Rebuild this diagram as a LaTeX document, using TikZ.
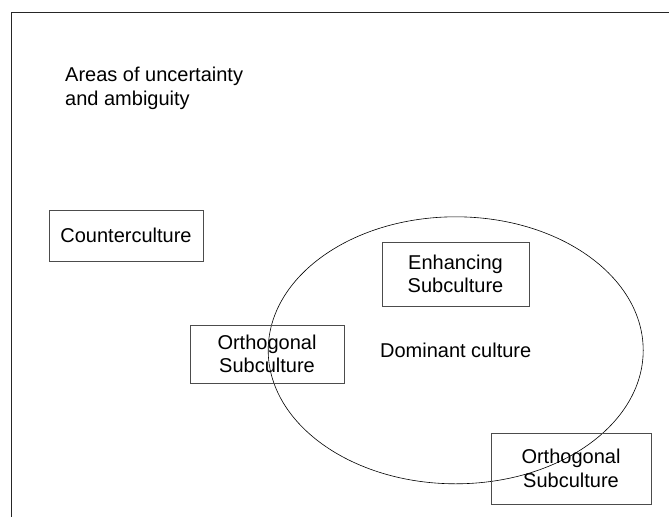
\documentclass[tikz,border=0pt]{standalone}
\usepackage{fontspec}
\setmainfont{Liberation Sans}
\usepackage{tikz}
\usetikzlibrary{shapes, positioning}

\begin{document}
\begin{tikzpicture}[x=1pt, y=-1pt,
    label text/.style={inner sep=0pt, font=\fontsize{20}{23.5}\selectfont},
    culture/.style={label text, draw=black!70, line width=0.9pt, align=center}]
    \useasboundingbox (0,0) rectangle (669,517);

    % Frame
    \coordinate (TL) at (11.7,12.3);
    \coordinate (TR) at (669,12.3);
    \coordinate (BL) at (11.7,517);
    \draw[line width=1.1pt, black!85] (TR) -- (TL) -- (BL);

    % Areas of uncertainty
    \node[label text, anchor=north west, align=left] (areas) at (65,67) {Areas of uncertainty\\and ambiguity};

    % Dominant culture
    \node[label text, ellipse, draw, line width=0.6pt,
          minimum width=375pt, minimum height=267pt] (dominant) at (455.7,350.3) {Dominant culture};

    % Subcultures
    \node[culture, minimum width=154pt, minimum height=51pt] (counter) at (126,235.5) {Counterculture};
    \node[culture, minimum width=154pt, minimum height=58pt] (orthoA) at (267,354) {Orthogonal\\Subculture};
    \node[culture, minimum width=147pt, minimum height=64pt] (enhancing) at (455.5,274) {Enhancing\\Subculture};
    \node[culture, minimum width=160pt, minimum height=71pt] (orthoB) at (571,468.5) {Orthogonal\\Subculture};
\end{tikzpicture}
\end{document}
